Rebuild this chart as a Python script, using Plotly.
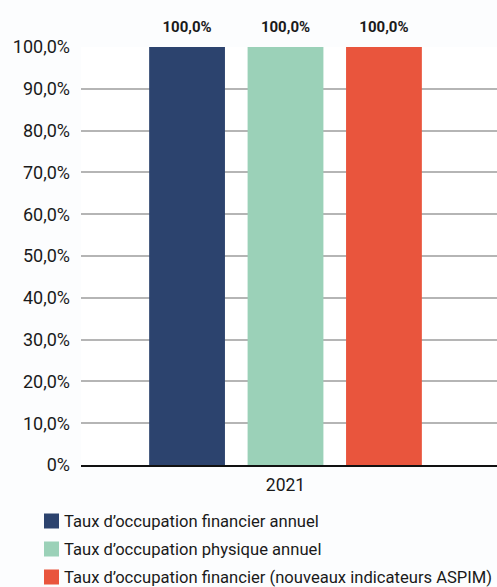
import plotly.graph_objects as go

categories = ["2021"]
series_names = [
    "Taux d’occupation financier annuel",
    "Taux d’occupation physique annuel",
    "Taux d’occupation financier (nouveaux indicateurs ASPIM)",
]
series_values = [[100.0], [100.0], [100.0]]
series_colors = ["#2c436e", "#9bd1b8", "#e9553d"]
tick_values = [0, 10, 20, 30, 40, 50, 60, 70, 80, 90, 100]
tick_labels = ["0%", "10,0%", "20,0%", "30,0%", "40,0%", "50,0%", "60,0%",
               "70,0%", "80,0%", "90,0%", "100,0%"]

FONT = "Roboto, Inter, sans-serif"

# plot area in pixels
PL, PR, PT, PB = 81, 497, 47, 465
W, H = 497, 587


def px_x(px):
    return (px - PL) / (PR - PL)


def px_y(py):
    return (PB - py) / (PB - PT)


fig = go.Figure()
for i, (name, vals, col) in enumerate(zip(series_names, series_values, series_colors)):
    fig.add_trace(go.Bar(
        x=categories, y=vals, name=name, marker_color=col, marker_line_width=0,
        offsetgroup=str(i), hoverinfo="skip",
    ))
    fig.add_trace(go.Scatter(
        x=categories, y=vals, mode="markers+text", offsetgroup=str(i),
        marker=dict(size=16, color="rgba(0,0,0,0)"),
        text=[f"<b>{v:.1f}%</b>".replace(".", ",") for v in vals],
        textposition="top center",
        textfont=dict(size=15, color="#1a1a1a", family=FONT),
        cliponaxis=False, hoverinfo="skip", showlegend=False,
    ))

# custom legend (squares + labels), bottom-left
legend_rows = [521, 549, 577]
for name, col, ry in zip(series_names, series_colors, legend_rows):
    fig.add_shape(type="rect", xref="paper", yref="paper",
                  x0=px_x(44), x1=px_x(59), y0=px_y(ry + 7.5), y1=px_y(ry - 7.5),
                  fillcolor=col, line_width=0)
    fig.add_annotation(xref="paper", yref="paper", x=px_x(62), y=px_y(ry),
                       xanchor="left", yanchor="middle", text=name, showarrow=False,
                       font=dict(size=16.6, color="#1a1a1a", family=FONT))

fig.update_layout(
    width=W, height=H,
    margin=dict(l=PL, r=W - PR, t=PT, b=H - PB, autoexpand=False),
    paper_bgcolor="#fcfdfe", plot_bgcolor="#ffffff",
    separators=", ",
    barmode="group", bargap=0.29, bargroupgap=0.23,
    scattermode="group", scattergap=0.29,
    font=dict(family=FONT, size=17, color="#1a1a1a"),
    xaxis=dict(range=[-0.4916, 0.5084], showgrid=False, showline=True,
               linecolor="#111111", linewidth=1.5, ticks="",
               ticklabelstandoff=3, tickfont=dict(size=17.5)),
    yaxis=dict(range=[0, 100], tickvals=tick_values, ticktext=tick_labels,
               showgrid=True, gridcolor="#b5b5b5", gridwidth=1.5,
               zeroline=False, ticks="", ticklen=0, ticklabelstandoff=10,
               tickfont=dict(size=18)),
    showlegend=False,
)

fig.write_html("out.html", config={"displayModeBar": False},
               post_script="document.body.style.margin='0';"
                           "document.body.style.padding='0';")
